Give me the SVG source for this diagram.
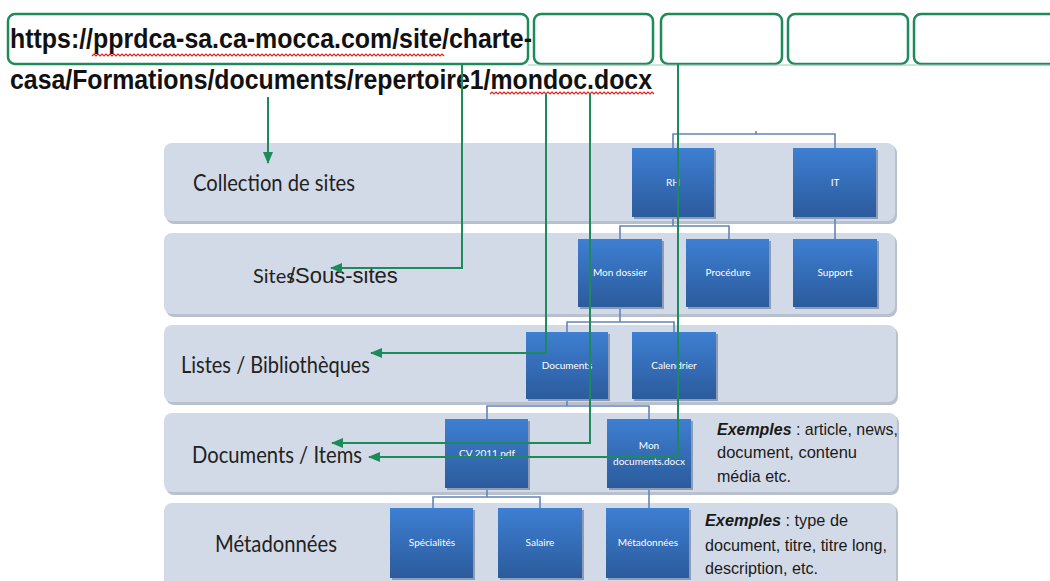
<svg xmlns="http://www.w3.org/2000/svg" width="1050" height="581" viewBox="0 0 1050 581">
<defs>
<linearGradient id="boxg" x1="0" y1="0" x2="0" y2="1">
<stop offset="0" stop-color="#3e7fd2"/>
<stop offset="1" stop-color="#2b5b9c"/>
</linearGradient>
<marker id="arr" markerWidth="12" markerHeight="10" refX="11" refY="5" orient="auto" markerUnits="userSpaceOnUse">
<path d="M0,0 L12,5 L0,10 z" fill="#1d8a5a"/>
</marker>
<style>
.url{font-family:"Liberation Sans",Arial,sans-serif;font-weight:bold;font-size:27px;fill:#111}
.ubox{fill:none;stroke:#1d8a5a;stroke-width:2.5}
.squig{fill:none;stroke:#e02020;stroke-width:1.2}
.band{fill:#d3dae7}
.bshadow{fill:#b9c0cd}
.lbl{font-family:Lato,"Noto Sans",sans-serif;font-size:23px;fill:#222}
.box{fill:url(#boxg)}
.boxsh{fill:#8d9bb5}
.bt{font-family:Lato,"Noto Sans",sans-serif;font-size:10px;fill:#fff;text-anchor:middle}
.ex{font-family:"Liberation Sans",Arial,sans-serif;font-size:17px;fill:#1a1a1a}
.exb{font-weight:bold;font-style:italic}
.g{fill:none;stroke:#1d8a5a;stroke-width:2}
.t{fill:none;stroke:#6384b8;stroke-width:1.6}
</style>
</defs>
<rect width="1050" height="581" fill="#fff"/>

<g id="url">
<rect class="ubox" x="8" y="14" width="520" height="50" rx="7"/>
<rect class="ubox" x="534" y="14" width="119" height="50" rx="7"/>
<rect class="ubox" x="661" y="14" width="121" height="50" rx="7"/>
<rect class="ubox" x="788" y="14" width="120" height="50" rx="7"/>
<rect class="ubox" x="914" y="14" width="150" height="50" rx="7"/>
<line x1="528" y1="65" x2="1050" y2="65" stroke="#9ccbb3" stroke-width="1"/>
<text class="url" x="10" y="48" textLength="522" lengthAdjust="spacingAndGlyphs">https://pprdca-sa.ca-mocca.com/site/charte-</text>
<text class="url" x="10" y="89" textLength="642" lengthAdjust="spacingAndGlyphs">casa/Formations/documents/repertoire1/mondoc.docx</text>
<path class="squig" d="M92,56 l2,-2 l2,2 l2,-2 l2,2 l2,-2 l2,2 l2,-2 l2,2 l2,-2 l2,2 l2,-2 l2,2 l2,-2 l2,2 l2,-2 l2,2 l2,-2 l2,2 l2,-2 l2,2 l2,-2 l2,2 l2,-2 l2,2 l2,-2 l2,2 l2,-2 l2,2 l2,-2 l2,2 l2,-2 l2,2 l2,-2 l2,2 l2,-2 l2,2 l2,-2 l2,2 l2,-2 l2,2 l2,-2 l2,2 l2,-2 l2,2 l2,-2 l2,2 l2,-2 l2,2 l2,-2 l2,2 l2,-2 l2,2 l2,-2 l2,2 l2,-2 l2,2 l2,-2 l2,2 l2,-2 l2,2 l2,-2 l2,2 l2,-2 l2,2 l2,-2 l2,2 l2,-2 l2,2 l2,-2 l2,2 l2,-2 l2,2 l2,-2 l2,2 l2,-2 l2,2 l2,-2 l2,2 l2,-2 l2,2 l2,-2 l2,2 l2,-2 l2,2 l2,-2 l2,2 l2,-2 l2,2 l2,-2 l2,2 l2,-2 l2,2 l2,-2 l2,2 l2,-2 l2,2 l2,-2 l2,2 l2,-2 l2,2 l2,-2 l2,2 l2,-2 l2,2 l2,-2 l2,2 l2,-2 l2,2 l2,-2 l2,2 l2,-2 l2,2 l2,-2 l2,2 l2,-2 l2,2 l2,-2 l2,2 l2,-2 l2,2 l2,-2 l2,2 l2,-2 l2,2 l2,-2 l2,2 l2,-2 l2,2 l2,-2 l2,2 l2,-2 l2,2 l2,-2 l2,2 l2,-2 l2,2 l2,-2 l2,2 l2,-2 l2,2 l2,-2 l2,2 l2,-2 l2,2 l2,-2 l2,2 l2,-2 l2,2 l2,-2 l2,2 l2,-2 l2,2 l2,-2 l2,2 l2,-2 l2,2 l2,-2 l2,2 l2,-2 l2,2 l2,-2 l2,2 l2,-2 l2,2 l2,-2 l2,2 l2,-2 l2,2 l2,-2 l2,2 l2,-2 l2,2 l2,-2 l2,2 l2,-2 l2,2"/>
<path class="squig" d="M490,94 l2,-2 l2,2 l2,-2 l2,2 l2,-2 l2,2 l2,-2 l2,2 l2,-2 l2,2 l2,-2 l2,2 l2,-2 l2,2 l2,-2 l2,2 l2,-2 l2,2 l2,-2 l2,2 l2,-2 l2,2 l2,-2 l2,2 l2,-2 l2,2 l2,-2 l2,2 l2,-2 l2,2 l2,-2 l2,2 l2,-2 l2,2 l2,-2 l2,2 l2,-2 l2,2 l2,-2 l2,2 l2,-2 l2,2 l2,-2 l2,2 l2,-2 l2,2 l2,-2 l2,2 l2,-2 l2,2 l2,-2 l2,2 l2,-2 l2,2 l2,-2 l2,2 l2,-2 l2,2 l2,-2 l2,2 l2,-2 l2,2 l2,-2 l2,2 l2,-2 l2,2 l2,-2 l2,2 l2,-2 l2,2 l2,-2 l2,2 l2,-2 l2,2 l2,-2 l2,2 l2,-2 l2,2 l2,-2 l2,2 l2,-2 l2,2"/>
</g>

<g id="band-collection">
<rect class="bshadow" x="166" y="145" width="731" height="79" rx="8"/>
<rect class="band" x="164" y="143" width="731" height="78" rx="8"/>
<text class="lbl" x="193" y="191" textLength="162" lengthAdjust="spacingAndGlyphs">Collection de sites</text>
</g>
<g id="band-sites">
<rect class="bshadow" x="166" y="235" width="731" height="82" rx="8"/>
<rect class="band" x="164" y="233" width="731" height="81" rx="8"/>
<text x="253" y="283" style="font-family:Lato,'Noto Sans',sans-serif;font-size:20px;fill:#222">Sites<tspan dx="-6" style="font-family:'Liberation Sans',Arial,sans-serif;font-size:22px">/Sous-sites</tspan></text>
</g>
<g id="band-listes">
<rect class="bshadow" x="166" y="327" width="732" height="78" rx="8"/>
<rect class="band" x="164" y="325" width="732" height="77" rx="8"/>
<text class="lbl" x="181" y="373" textLength="189" lengthAdjust="spacingAndGlyphs">Listes / Bibliothèques</text>
</g>
<g id="band-documents">
<rect class="bshadow" x="166" y="415" width="733" height="80" rx="8"/>
<rect class="band" x="164" y="413" width="733" height="79" rx="8"/>
<text class="lbl" x="192" y="463" textLength="170" lengthAdjust="spacingAndGlyphs">Documents / Items</text>
<text class="ex" x="717" y="435" textLength="181" lengthAdjust="spacingAndGlyphs"><tspan class="exb">Exemples</tspan> : article, news,</text>
<text class="ex" x="717" y="458" textLength="140" lengthAdjust="spacingAndGlyphs">document, contenu</text>
<text class="ex" x="717" y="482" textLength="74" lengthAdjust="spacingAndGlyphs">média etc.</text>
</g>
<g id="band-metadonnees">
<rect class="bshadow" x="166" y="505" width="732" height="90" rx="8"/>
<rect class="band" x="164" y="503" width="732" height="90" rx="8"/>
<text class="lbl" x="215" y="552" textLength="122" lengthAdjust="spacingAndGlyphs">Métadonnées</text>
<text class="ex" x="705" y="526" textLength="143" lengthAdjust="spacingAndGlyphs"><tspan class="exb">Exemples</tspan> : type de</text>
<text class="ex" x="705" y="551" textLength="182" lengthAdjust="spacingAndGlyphs">document, titre, titre long,</text>
<text class="ex" x="705" y="574" textLength="113" lengthAdjust="spacingAndGlyphs">description, etc.</text>
</g>

<g id="connectors">
<path class="t" d="M673,148 V134 H835 V148"/>
<path class="t" d="M756,134 V131"/>
<path class="t" d="M673,217 V226 M620,239 V226 H729 V239"/>
<path class="t" d="M835,217 V239"/>
<path class="t" d="M620,307 V322 M567,332 V322 H674 V332"/>
<path class="t" d="M567,399 V406 M487,419 V406 H649 V419"/>
<path class="t" d="M487,488 V497 M433,508 V497 H540 V508"/>
<path class="t" d="M649,488 V508"/>
</g>

<g id="node-rh"><rect class="boxsh" x="634" y="150" width="82" height="69"/><rect class="box" x="632" y="148" width="82" height="69"/><text class="bt" x="673" y="186">RH</text></g>
<g id="node-it"><rect class="boxsh" x="795" y="150" width="83" height="69"/><rect class="box" x="793" y="148" width="83" height="69"/><text class="bt" x="835" y="186">IT</text></g>
<g id="node-mondossier"><rect class="boxsh" x="580" y="241" width="84" height="68"/><rect class="box" x="578" y="239" width="84" height="68"/><text class="bt" x="620" y="276">Mon dossier</text></g>
<g id="node-procedure"><rect class="boxsh" x="688" y="241" width="83" height="68"/><rect class="box" x="686" y="239" width="83" height="68"/><text class="bt" x="728" y="276">Procédure</text></g>
<g id="node-support"><rect class="boxsh" x="795" y="241" width="84" height="68"/><rect class="box" x="793" y="239" width="84" height="68"/><text class="bt" x="835" y="276">Support</text></g>
<g id="node-documents"><rect class="boxsh" x="528" y="334" width="82" height="67"/><rect class="box" x="526" y="332" width="82" height="67"/><text class="bt" x="567" y="369">Documents</text></g>
<g id="node-calendrier"><rect class="boxsh" x="634" y="334" width="84" height="67"/><rect class="box" x="632" y="332" width="84" height="67"/><text class="bt" x="674" y="369">Calendrier</text></g>
<g id="node-cv"><rect class="boxsh" x="447" y="421" width="83" height="69"/><rect class="box" x="445" y="419" width="83" height="69"/><text class="bt" x="487" y="457">CV 2011.pdf</text></g>
<g id="node-mondoc"><rect class="boxsh" x="609" y="421" width="84" height="69"/><rect class="box" x="607" y="419" width="84" height="69"/><text class="bt" x="649" y="449">Mon</text><text class="bt" x="649" y="465">documents.docx</text></g>
<g id="node-specialites"><rect class="boxsh" x="392" y="510" width="83" height="70"/><rect class="box" x="390" y="508" width="83" height="70"/><text class="bt" x="432" y="546">Spécialités</text></g>
<g id="node-salaire"><rect class="boxsh" x="500" y="510" width="84" height="70"/><rect class="box" x="498" y="508" width="84" height="70"/><text class="bt" x="540" y="546">Salaire</text></g>
<g id="node-metadonnees"><rect class="boxsh" x="608" y="510" width="83" height="70"/><rect class="box" x="606" y="508" width="83" height="70"/><text class="bt" x="648" y="546">Métadonnées</text></g>

<g id="url-connectors">
<path class="g" d="M268,97 V163" marker-end="url(#arr)"/>
<path class="g" d="M462,64 V268 H331" marker-end="url(#arr)"/>
<path class="g" d="M546,93 V353 H371" marker-end="url(#arr)"/>
<path class="g" d="M590,93 V443 H332" marker-end="url(#arr)"/>
<path class="g" d="M678,64 V457 H369" marker-end="url(#arr)"/>
</g>
</svg>
